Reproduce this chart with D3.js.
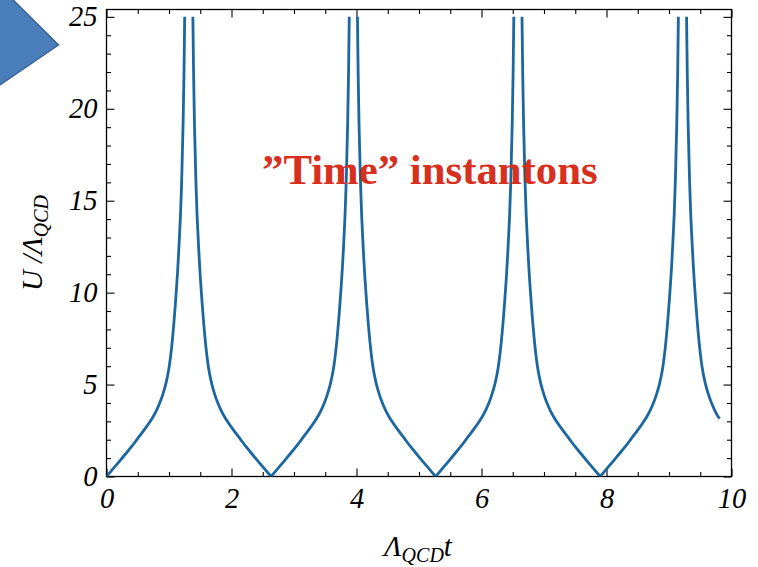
<!DOCTYPE html>
<html><head><meta charset="utf-8">
<script src="https://cdn.jsdelivr.net/npm/d3@7/dist/d3.min.js"></script>
<style>body{margin:0;background:#fff} svg{display:block}</style>
</head><body>
<svg id="c" width="758" height="567"></svg>
<script>
// ---- data ----
const xTicks = [0, 2, 4, 6, 8, 10];
const yTicks = [0, 5, 10, 15, 20, 25];
const xMinor = [0.5,1,1.5,2.5,3,3.5,4.5,5,5.5,6.5,7,7.5,8.5,9,9.5];
const yMinor = [1,2,3,4,6,7,8,9,11,12,13,14,16,17,18,19,21,22,23,24];
const riseU  = [0,0.4,0.8,1.21,1.62,2.07,2.52,3.0,3.28,3.6,3.98,4.45,5.05,5.9,7.3,9.3,11.9,15.8,22,25];
const fallU  = [25,22,15.8,11.9,9.3,7.3,5.9,5.05,4.45,3.98,3.6,3.28,3.0,2.52,2.07,1.62,1.21,0.8,0.4,0];
const rise1T = [0,0.1,0.2,0.3,0.4,0.5,0.6,0.7,0.75,0.8,0.85,0.9,0.95,1.0,1.05,1.1,1.15,1.2,1.24,1.251];
const fall1T = [1.382,1.393,1.433,1.483,1.533,1.583,1.633,1.683,1.733,1.783,1.833,1.883,1.933,2.033,2.133,2.233,2.333,2.433,2.533,2.633];
const rise2T = [2.633,2.733,2.833,2.933,3.033,3.133,3.233,3.333,3.383,3.433,3.483,3.533,3.583,3.633,3.683,3.733,3.783,3.833,3.873,3.884];
const fall2T = [4.015,4.026,4.066,4.116,4.166,4.216,4.266,4.316,4.366,4.416,4.466,4.516,4.566,4.666,4.766,4.866,4.966,5.066,5.166,5.266];
const rise3T = [5.266,5.366,5.466,5.566,5.666,5.766,5.866,5.966,6.016,6.066,6.116,6.166,6.216,6.266,6.316,6.366,6.416,6.466,6.506,6.517];
const fall3T = [6.648,6.659,6.699,6.749,6.799,6.849,6.899,6.949,6.999,7.049,7.099,7.149,7.199,7.299,7.399,7.499,7.599,7.699,7.799,7.899];
const rise4T = [7.899,7.999,8.099,8.199,8.299,8.399,8.499,8.599,8.649,8.699,8.749,8.799,8.849,8.899,8.949,8.999,9.049,9.099,9.139,9.150];
const fall4T = [9.281,9.292,9.332,9.382,9.432,9.482,9.532,9.582,9.632,9.682,9.732,9.782,9.81];
const fall4U = [25,22,15.8,11.9,9.3,7.3,5.9,5.05,4.45,3.98,3.6,3.28,3.15];
const titleText = "\u201DTime\u201D instantons";

// ---- layout ----
const L = 106.5, R = 731.5, T = 9.5, B = 476.5;
const svg = d3.select("#c");
const x = d3.scaleLinear().domain([0, 10]).range([L, R]);
const y = d3.scaleLinear().domain([0, 25.4]).range([B, T]);

// decorative triangle (slide arrow)
svg.append("polygon")
  .attr("points", "-12,-25 58.5,45 -12,93")
  .attr("fill", "#4a7ebb").attr("stroke", "#3a6493").attr("stroke-width", 1.5);

const serif = "'Liberation Serif','Times New Roman',serif";

function styleAxis(g, labels) {
  g.attr("font-family", null).attr("font-size", null);
  g.select(".domain").remove();
  g.selectAll("line").attr("stroke", "#000").attr("stroke-width", 1.1);
  if (labels) {
    g.selectAll("text")
      .style("font-family", serif).style("font-style", "italic")
      .style("font-size", "28.5px").attr("fill", "#000");
  } else g.selectAll("text").remove();
}
const maj = 8, mnr = 4.5;
// bottom
svg.append("g").attr("transform", `translate(0,${B})`)
  .call(d3.axisBottom(x).tickValues(xTicks).tickSize(-maj).tickPadding(11).tickFormat(d3.format("d")))
  .call(g => styleAxis(g, true));
svg.append("g").attr("transform", `translate(0,${B})`)
  .call(d3.axisBottom(x).tickValues(xMinor).tickSize(-mnr))
  .call(g => styleAxis(g, false));
// top
svg.append("g").attr("transform", `translate(0,${T})`)
  .call(d3.axisTop(x).tickValues(xTicks).tickSize(-maj)).call(g => styleAxis(g, false));
svg.append("g").attr("transform", `translate(0,${T})`)
  .call(d3.axisTop(x).tickValues(xMinor).tickSize(-mnr)).call(g => styleAxis(g, false));
// left
svg.append("g").attr("transform", `translate(${L},0)`)
  .call(d3.axisLeft(y).tickValues(yTicks).tickSize(-maj).tickPadding(9).tickFormat(d3.format("d")))
  .call(g => styleAxis(g, true));
svg.append("g").attr("transform", `translate(${L},0)`)
  .call(d3.axisLeft(y).tickValues(yMinor).tickSize(-mnr)).call(g => styleAxis(g, false));
// right
svg.append("g").attr("transform", `translate(${R},0)`)
  .call(d3.axisRight(y).tickValues(yTicks).tickSize(-maj)).call(g => styleAxis(g, false));
svg.append("g").attr("transform", `translate(${R},0)`)
  .call(d3.axisRight(y).tickValues(yMinor).tickSize(-mnr)).call(g => styleAxis(g, false));

// frame
svg.append("rect").attr("x", L).attr("y", T).attr("width", R - L).attr("height", B - T)
  .attr("fill", "none").attr("stroke", "#000").attr("stroke-width", 1.3);

// clip
svg.append("clipPath").attr("id", "clip").append("rect")
  .attr("x", L).attr("y", T).attr("width", R - L).attr("height", B - T);

const branches = [
  [rise1T, riseU], [fall1T, fallU], [rise2T, riseU], [fall2T, fallU],
  [rise3T, riseU], [fall3T, fallU], [rise4T, riseU], [fall4T, fall4U]
];
const line = d3.line().x(d => x(d[0])).y(d => y(d[1])).curve(d3.curveMonotoneX);
const gl = svg.append("g").attr("clip-path", "url(#clip)");
branches.forEach(([ts, us]) => {
  gl.append("path").datum(ts.map((t, i) => [t, us[i]]))
    .attr("d", line).attr("fill", "none").attr("stroke", "#1c679f")
    .attr("stroke-width", 2.8).attr("stroke-linecap", "butt");
});

// title annotation
svg.append("text").attr("x", 262).attr("y", 184)
  .style("font-family", serif).style("font-weight", "bold").style("font-size", "42.8px")
  .attr("fill", "#d8301f").text(titleText);

// x label
const xl = svg.append("text").attr("x", 418).attr("y", 556).attr("text-anchor", "middle")
  .style("font-family", serif).style("font-style", "italic").style("font-size", "29px").attr("fill", "#000");
xl.append("tspan").text("\u039B");
xl.append("tspan").style("font-size", "20px").attr("dy", 6).text("QCD");
xl.append("tspan").attr("dy", -6).text("t");

// y label
const yl = svg.append("text").attr("transform", "translate(42,243) rotate(-90)")
  .attr("text-anchor", "middle")
  .style("font-family", serif).style("font-style", "italic").style("font-size", "29px").attr("fill", "#000");
yl.append("tspan").text("U /\u039B");
yl.append("tspan").style("font-size", "20px").attr("dy", 6).text("QCD");
</script>
</body></html>
